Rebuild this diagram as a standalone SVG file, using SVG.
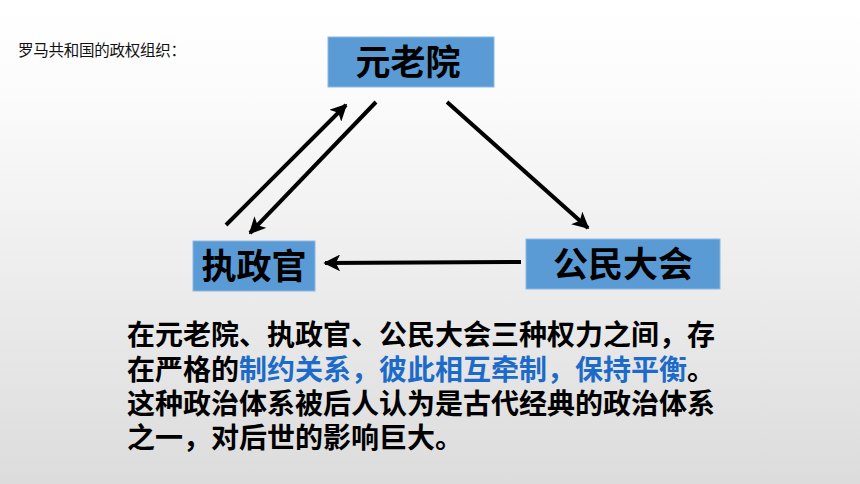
<svg xmlns="http://www.w3.org/2000/svg" width="860" height="484" viewBox="0 0 860 484">
<defs>
<linearGradient id="bg" x1="0" y1="0" x2="0" y2="1">
<stop offset="0" stop-color="#ffffff"/>
<stop offset="0.2" stop-color="#fbfbfb"/>
<stop offset="1" stop-color="#dcdcdc"/>
</linearGradient>
<marker id="arr" viewBox="0 0 10 10" refX="9" refY="5" markerWidth="4.2" markerHeight="4.2" orient="auto" markerUnits="strokeWidth">
<path d="M0,0 L10,5 L0,10 L2.5,5 Z" fill="#000"/>
</marker>
<style>
.box{fill:#5B9BD5;stroke:#8DB8E3;stroke-width:1}
.lbl{font-family:"Noto Sans CJK SC","Noto Sans",sans-serif;font-weight:bold;font-size:35px;fill:#000;text-anchor:middle}
.con{stroke:#000;stroke-width:4;fill:none;marker-end:url(#arr)}
.para{font-family:"Noto Sans CJK SC","Noto Sans",sans-serif;font-weight:bold;font-size:28px;fill:#000}
.blue{fill:#1C6BC8}
.title{font-family:"Noto Sans CJK SC","Noto Sans",sans-serif;font-size:15.5px;fill:#111}
</style>
</defs>
<rect width="860" height="484" fill="url(#bg)"/>
<text class="title" x="18" y="56" textLength="168" lengthAdjust="spacing">罗马共和国的政权组织：</text>
<g id="connectors">
<line class="con" x1="226" y1="225" x2="346" y2="105"/>
<line class="con" x1="376" y1="102" x2="250" y2="233"/>
<line class="con" x1="447" y1="102" x2="588" y2="228"/>
<line class="con" x1="521" y1="262" x2="325" y2="263"/>
</g>
<g id="senate">
<rect class="box" x="328" y="37" width="166" height="50"/>
<text class="lbl" x="408" y="75">元老院</text>
</g>
<g id="consul">
<rect class="box" x="193" y="241" width="122" height="50"/>
<text class="lbl" x="254" y="279">执政官</text>
</g>
<g id="assembly">
<rect class="box" x="526" y="239" width="194" height="50"/>
<text class="lbl" x="623" y="277">公民大会</text>
</g>
<g id="paragraph">
<text class="para" x="127" y="345">在元老院、执政官、公民大会三种权力之间，存</text>
<text class="para" x="127" y="380">在严格的<tspan class="blue">制约关系，彼此相互牵制，保持平衡</tspan>。</text>
<text class="para" x="127" y="414">这种政治体系被后人认为是古代经典的政治体系</text>
<text class="para" x="127" y="448">之一，对后世的影响巨大。</text>
</g>
</svg>
